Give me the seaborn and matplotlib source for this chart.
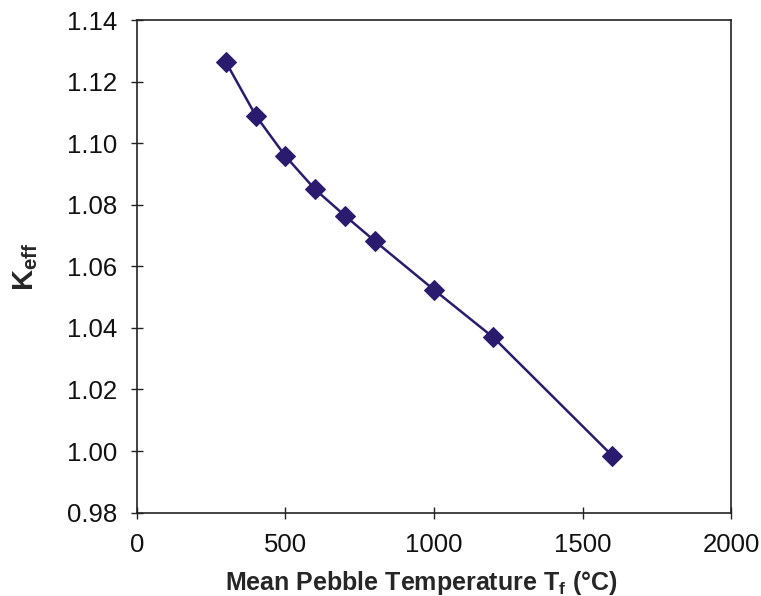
import matplotlib
matplotlib.use("Agg")
import matplotlib.pyplot as plt
import seaborn as sns
import pandas as pd

temperature = [300, 400, 500, 600, 700, 800, 1000, 1200, 1600]
keff = [1.1263, 1.1090, 1.0958, 1.0850, 1.0765, 1.0683, 1.0524, 1.0369, 0.9985]

x_ticks = [0, 500, 1000, 1500, 2000]
y_ticks = [0.98, 1.00, 1.02, 1.04, 1.06, 1.08, 1.10, 1.12, 1.14]

sns.set_style("ticks")
plt.rcParams['font.family'] = ['Liberation Sans', 'DejaVu Sans']
plt.rcParams['mathtext.fontset'] = 'custom'
plt.rcParams['mathtext.rm'] = 'Liberation Sans'
plt.rcParams['mathtext.bf'] = 'Liberation Sans:bold'

df = pd.DataFrame({"T": temperature, "K": keff})

fig = plt.figure(figsize=(7.61, 5.96), dpi=100)
ax = fig.add_axes([0.180, 0.140, 0.7806, 0.826])

color = "#2B1B6E"
sns.lineplot(data=df, x="T", y="K", ax=ax, color=color, linewidth=1.8,
             marker="D", markersize=10.5, markeredgecolor=color,
             markerfacecolor=color)

ax.set_xlim(0, 2000)
ax.set_ylim(0.98, 1.14)
ax.set_xticks(x_ticks)
ax.set_yticks(y_ticks)
ax.set_xticklabels([str(v) for v in x_ticks])
ax.set_yticklabels([f"{v:.2f}" for v in y_ticks])
ax.tick_params(axis="both", labelsize=18.5, direction="inout", length=8,
               width=1.0, color="#222222", labelcolor="#111111")
ax.tick_params(axis="x", pad=11)
ax.tick_params(axis="y", pad=10)

for s in ax.spines.values():
    s.set_visible(True)
    s.set_linewidth(1.2)
    s.set_color("#222222")

ax.set_xlabel(r"Mean Pebble Temperature T$_\mathbf{f}$ (°C)", fontsize=18,
              fontweight="bold", labelpad=8)
ax.xaxis.set_label_coords(0.478, -0.115)
ax.set_ylabel(r"K$_\mathbf{eff}$", fontsize=21, fontweight="bold", labelpad=20)

fig.savefig("out.png", dpi=100)
